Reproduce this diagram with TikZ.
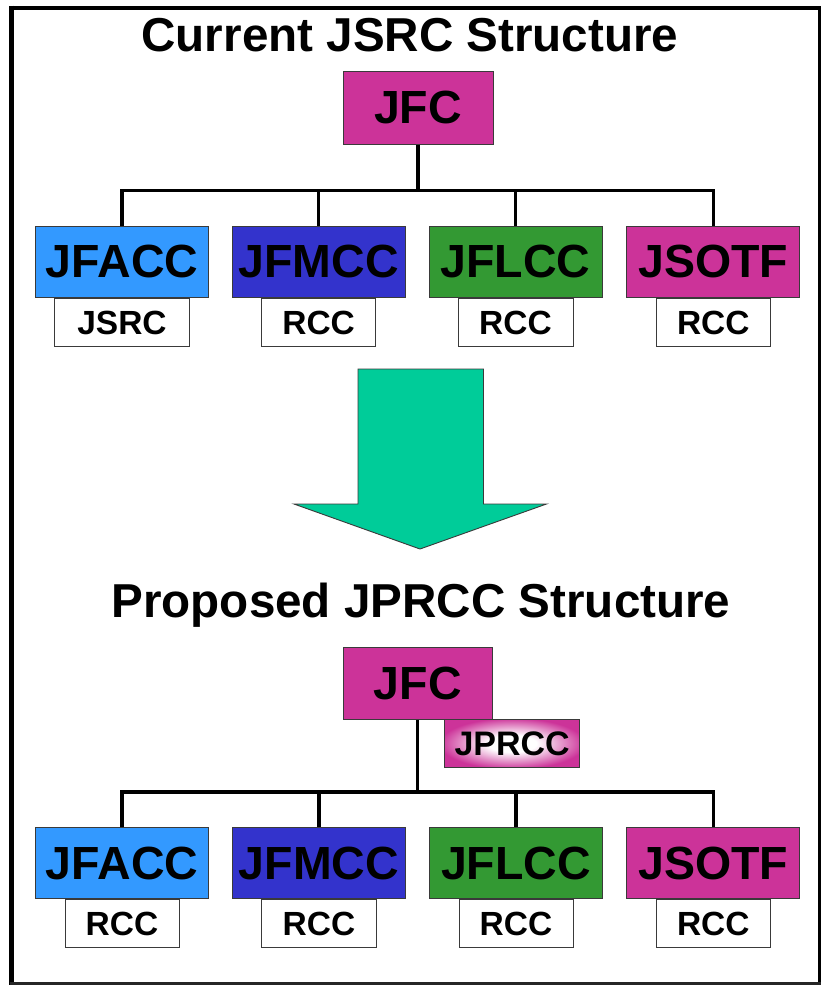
\documentclass[tikz,border=0pt]{standalone}
\usepackage{fontspec}
\setmainfont{Liberation Sans}
\usetikzlibrary{calc}

\definecolor{jfcmag}{HTML}{CC3399}
\definecolor{accblue}{HTML}{3399FF}
\definecolor{mccblue}{HTML}{3333CC}
\definecolor{lccgreen}{HTML}{339933}
\definecolor{arrowgreen}{HTML}{00CC99}
\definecolor{edgegray}{HTML}{3A3A3A}

% soft white glow fading out to magenta
\pgfdeclareradialshading{pinkglow}{\pgfpoint{0bp}{0bp}}{%
  color(0bp)=(white); color(9bp)=(white);
  color(27bp)=(jfcmag); color(50bp)=(jfcmag)}

\tikzset{
  headbox/.style={draw=edgegray, line width=1pt, inner sep=0pt,
    minimum width=173pt, minimum height=71.5pt,
    font=\fontsize{46.5}{50}\selectfont\bfseries},
  topbox/.style={draw=edgegray, line width=1pt, fill=jfcmag, inner sep=0pt,
    minimum width=150pt, minimum height=73pt,
    font=\fontsize{46.5}{50}\selectfont\bfseries},
  subbox/.style={draw=edgegray, line width=0.9pt, fill=white, inner sep=0pt,
    minimum height=48pt, anchor=north,
    font=\fontsize{33.5}{36}\selectfont\bfseries},
  titletext/.style={anchor=base, inner sep=0pt,
    font=\fontsize{47.6}{50}\selectfont\bfseries},
  conn/.style={draw=black, line width=3.4pt},
}

\begin{document}
\begin{tikzpicture}[x=1pt, y=-1pt]
  \useasboundingbox (0,0) rectangle (825,985);

  % outer frame
  \draw[line width=4.5pt] (11.7,5.7) -- (11.7,984.5);
  \draw[line width=4pt] (9.5,7.7) -- (821,7.7);
  \draw[line width=2.6pt] (819.5,6) -- (819.5,984.5);
  \draw[line width=2.6pt, draw=black!85] (9.5,983.2) -- (821,983.2);

  % ---------------- current structure ----------------
  \node[titletext] (title1) at (410,51.7) {Current JSRC Structure};

  \node[topbox] (jfc1) at (418,107.6) {JFC};

  \node[headbox, fill=accblue]  (facc1) at (122,261.8) {JFACC};
  \node[headbox, fill=mccblue]  (fmcc1) at (318.6,261.8) {JFMCC};
  \node[headbox, fill=lccgreen] (flcc1) at (515.5,261.8) {JFLCC};
  \node[headbox, fill=jfcmag]   (sotf1) at (713.3,261.8) {JSOTF};

  \node[subbox, minimum width=135pt] (sfacc1) at (facc1.south) {JSRC};
  \node[subbox, minimum width=114pt] (sfmcc1) at (fmcc1.south) {RCC};
  \node[subbox, minimum width=115pt] (sflcc1) at (flcc1.south) {RCC};
  \node[subbox, minimum width=114pt] (ssotf1) at (sotf1.south) {RCC};

  \coordinate (bar1) at (0,190.5);
  \draw[conn] (jfc1.south) -- (jfc1.south |- bar1);
  \draw[conn] (facc1.north) -- (facc1.north |- bar1) -| (sotf1.north);
  \draw[conn] (fmcc1.north) -- (fmcc1.north |- bar1);
  \draw[conn] (flcc1.north) -- (flcc1.north |- bar1);

  % ---------------- transition arrow ----------------
  \draw[draw=edgegray, line width=0.9pt, fill=arrowgreen, line join=miter]
    (358,369) -- (483.5,369) -- (483.5,504) -- (546.5,504) -- (420,549)
    -- (294,504) -- (358,504) -- cycle;

  % ---------------- proposed structure ----------------
  \node[titletext] (title2) at (421,617) {Proposed JPRCC Structure};

  \node[topbox, minimum width=149.5pt, minimum height=72.3pt] (jfc2) at (417.8,683.2) {JFC};
  \node[draw=edgegray, line width=1pt, inner sep=0pt,
        minimum width=134.7pt, minimum height=47.4pt,
        shading=pinkglow,
        font=\fontsize{34}{36}\selectfont\bfseries, anchor=north west]
        (jprcc) at (444.3,719.3) {JPRCC};

  \node[headbox, fill=accblue]  (facc2) at (122,863) {JFACC};
  \node[headbox, fill=mccblue]  (fmcc2) at (319,863) {JFMCC};
  \node[headbox, fill=lccgreen] (flcc2) at (516,863) {JFLCC};
  \node[headbox, fill=jfcmag]   (sotf2) at (713.3,863) {JSOTF};

  \node[subbox, minimum width=114pt, minimum height=47.6pt] (sfacc2) at (facc2.south) {RCC};
  \node[subbox, minimum width=115pt, minimum height=47.6pt] (sfmcc2) at (fmcc2.south) {RCC};
  \node[subbox, minimum width=114pt, minimum height=47.6pt] (sflcc2) at (flcc2.south) {RCC};
  \node[subbox, minimum width=114pt, minimum height=47.6pt] (ssotf2) at (sotf2.south) {RCC};

  \coordinate (bar2) at (0,792);
  \draw[conn] ($(jfc2.south)+(-0.5,0)$) -- ($(jfc2.south |- bar2)+(-0.5,0)$);
  \draw[conn] (facc2.north) -- (facc2.north |- bar2) -| (sotf2.north);
  \draw[conn] (fmcc2.north) -- (fmcc2.north |- bar2);
  \draw[conn] (flcc2.north) -- (flcc2.north |- bar2);
\end{tikzpicture}
\end{document}
